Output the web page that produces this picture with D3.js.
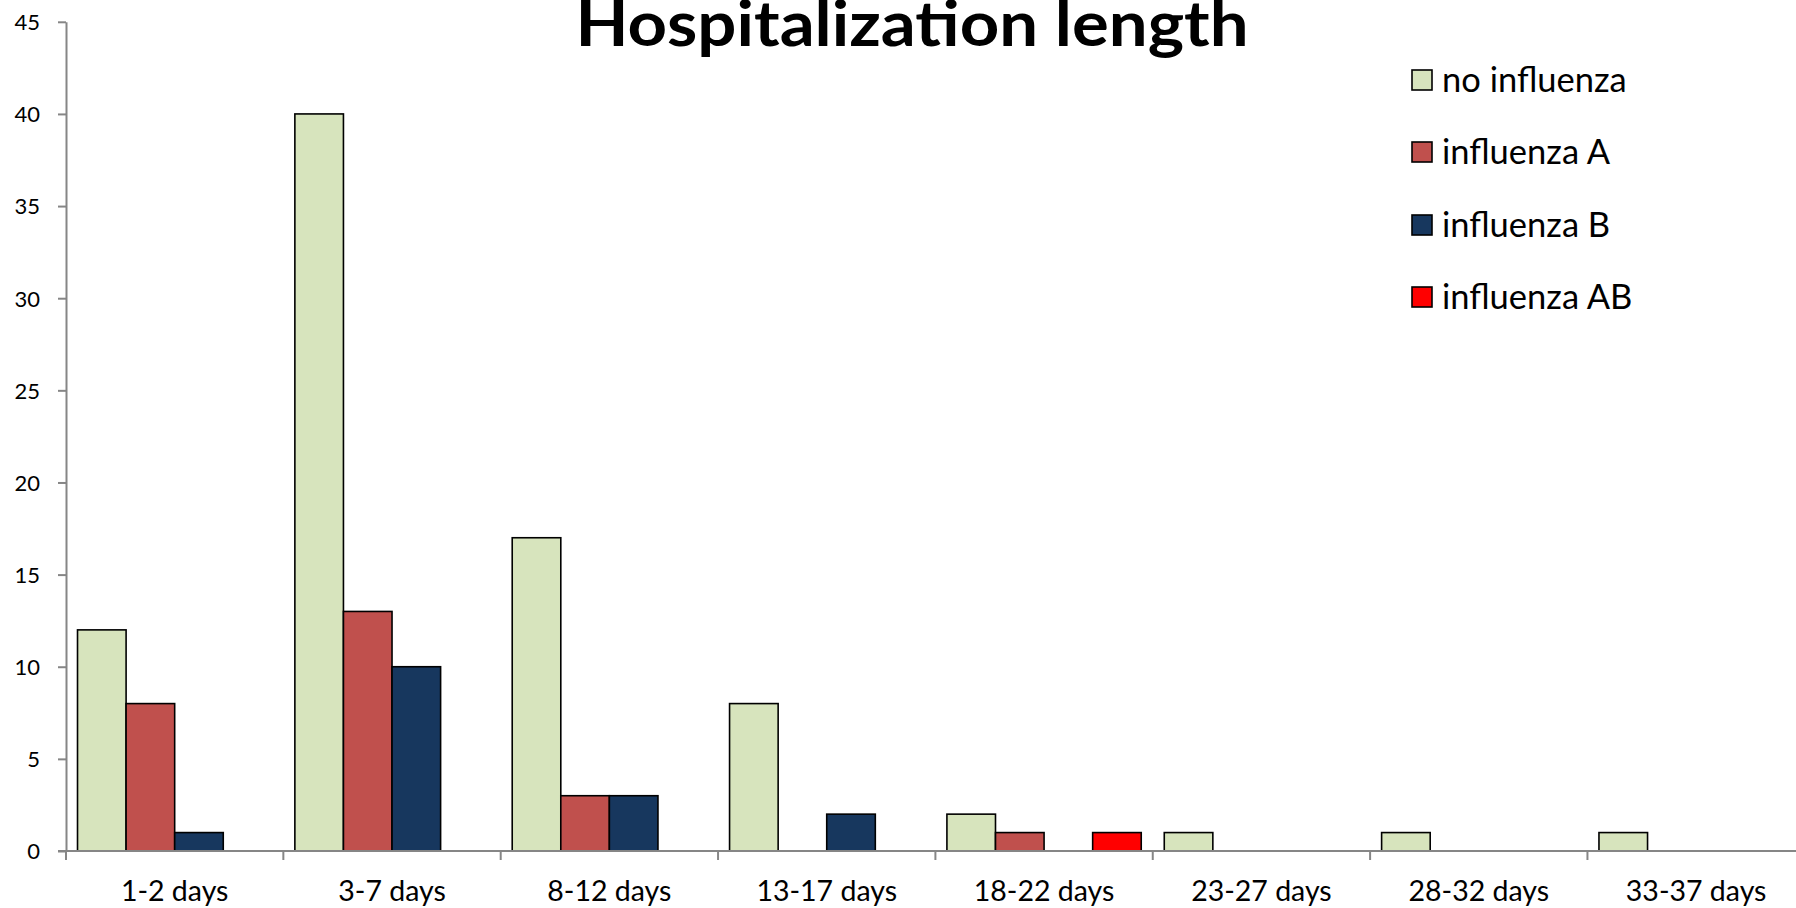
<!DOCTYPE html>
<html>
<head>
<meta charset="utf-8">
<script src="https://cdn.jsdelivr.net/npm/d3@7"></script>
<style>
html,body{margin:0;padding:0;background:#fff;overflow:hidden;}
svg{display:block;}
</style>
</head>
<body>
<svg id="chart" width="1796" height="908"></svg>
<script>
const categories = ["1-2 days","3-7 days","8-12 days","13-17 days","18-22 days","23-27 days","28-32 days","33-37 days"];
const seriesNames = ["no influenza","influenza A","influenza B","influenza AB"];
const noInfluenza = [12,40,17,8,2,1,1,1];
const influenzaA  = [8,13,3,0,1,0,0,0];
const influenzaB  = [1,10,3,2,0,0,0,0];
const influenzaAB = [0,0,0,0,1,0,0,0];
const yTicks = [0,5,10,15,20,25,30,35,40,45];
const colors = ["#D7E4BD","#C0504D","#17375E","#FF0000"];
const seriesValues = [noInfluenza, influenzaA, influenzaB, influenzaAB];

(function(){
const svg = d3.select("#chart");
const plotLeft = 66, plotTop = 21.8, plotBottom = 851, step = 217.35;
const plotRight = plotLeft + step * categories.length;

const x0 = d3.scaleBand().domain(categories).range([plotLeft, plotRight]).paddingInner(0).paddingOuter(0);
const x1 = d3.scaleBand().domain(seriesNames).range([0, x0.bandwidth()]).paddingInner(0).paddingOuter(0.237);
const y = d3.scaleLinear().domain([0,45]).range([plotBottom, plotTop]);

const axisColor = "#868686";
const font = "Lato, 'Open Sans', sans-serif";

// bars
categories.forEach((c, ci) => {
  seriesNames.forEach((s, si) => {
    const v = seriesValues[si][ci];
    if (v <= 0) return;
    svg.append("rect")
      .attr("x", x0(c) + x1(s))
      .attr("y", y(v))
      .attr("width", x1.bandwidth())
      .attr("height", y(0) - y(v))
      .attr("fill", colors[si])
      .attr("stroke", "#000")
      .attr("stroke-width", 1.6);
  });
});

// y axis
const yAxis = d3.axisLeft(y).tickValues(yTicks).tickSize(8).tickPadding(0).tickSizeOuter(0);
const gy = svg.append("g").attr("transform", `translate(${plotLeft},0)`).call(yAxis);
gy.select(".domain").attr("stroke", axisColor).attr("stroke-width", 2);
gy.selectAll(".tick line").attr("stroke", axisColor).attr("stroke-width", 2);
gy.selectAll(".tick text").attr("x", -26).attr("dy", "0.36em")
  .attr("font-family", font).attr("font-size", 22).attr("fill", "#000");

// x axis
const gx = svg.append("g").attr("transform", `translate(0,${plotBottom})`);
gx.append("line").attr("x1", plotLeft - 8).attr("x2", 1796).attr("y1", 0).attr("y2", 0)
  .attr("stroke", axisColor).attr("stroke-width", 2);
const boundaries = categories.map(c => x0(c));
gx.selectAll("line.tk").data(boundaries).enter().append("line").attr("class","tk")
  .attr("x1", d => d).attr("x2", d => d).attr("y1", 0).attr("y2", 9)
  .attr("stroke", axisColor).attr("stroke-width", 2);
gx.selectAll("text").data(categories).enter().append("text")
  .attr("x", d => x0(d) + x0.bandwidth()/2)
  .attr("y", 50)
  .attr("text-anchor", "middle")
  .attr("font-family", font).attr("font-size", 28.5).attr("fill", "#000")
  .text(d => d);

// title
svg.append("text").attr("x", 912).attr("y", 46).attr("text-anchor", "middle")
  .attr("font-family", font).attr("font-weight", "bold")
  .attr("font-size", 63).attr("fill", "#000")
  .attr("textLength", 673).attr("lengthAdjust", "spacingAndGlyphs")
  .text("Hospitalization length");

// legend
const legendY = [80, 152, 225, 297];
seriesNames.forEach((s, i) => {
  const g = svg.append("g").attr("transform", `translate(1412,${legendY[i]})`);
  g.append("rect").attr("x", 0).attr("y", -10).attr("width", 20).attr("height", 20)
    .attr("fill", colors[i]).attr("stroke", "#000").attr("stroke-width", 1.6);
  g.append("text").attr("x", 30).attr("y", 0).attr("dy", "0.36em")
    .attr("font-family", font).attr("font-size", 34.5).attr("fill", "#000")
    .text(s);
});
})();
</script>
</body>
</html>
